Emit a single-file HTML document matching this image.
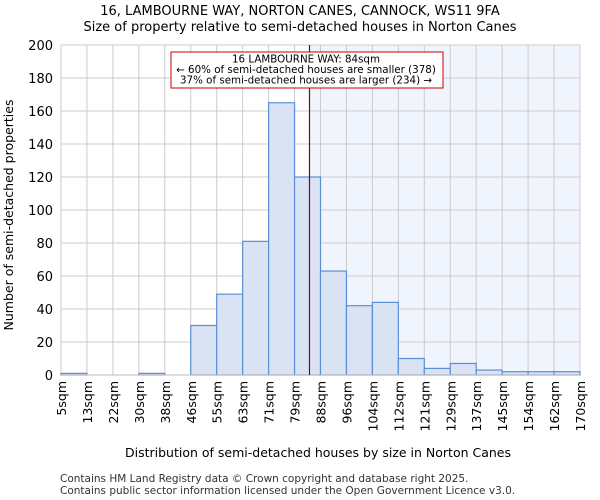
<!DOCTYPE html>
<html><head><meta charset="utf-8"><style>body{margin:0;background:#fff}svg{display:block;font-family:"DejaVu Sans","Liberation Sans",sans-serif}</style></head>
<body>
<svg id="c" width="600" height="500" xmlns="http://www.w3.org/2000/svg">
<text x="300" y="15" text-anchor="middle" font-size="13">16, LAMBOURNE WAY, NORTON CANES, CANNOCK, WS11 9FA</text>
<text x="300" y="31" text-anchor="middle" font-size="13">Size of property relative to semi-detached houses in Norton Canes</text>
<g id="plot"></g>
<text x="318" y="457" text-anchor="middle" font-size="12.5">Distribution of semi-detached houses by size in Norton Canes</text>
<text transform="translate(13,215) rotate(-90)" text-anchor="middle" font-size="12.5">Number of semi-detached properties</text>
<text x="60" y="482" font-size="10.5" fill="#333">Contains HM Land Registry data © Crown copyright and database right 2025.</text>
<text x="60" y="494" font-size="10.5" fill="#333">Contains public sector information licensed under the Open Government Licence v3.0.</text>
</svg>
<script>
const edgeLabels=["5sqm","13sqm","22sqm","30sqm","38sqm","46sqm","55sqm","63sqm","71sqm","79sqm","88sqm","96sqm","104sqm","112sqm","121sqm","129sqm","137sqm","145sqm","154sqm","162sqm","170sqm"];
const counts=[1,0,0,1,0,30,49,81,165,120,63,42,44,10,4,7,3,2,2,2];
const yTicks=[0,20,40,60,80,100,120,140,160,180,200];
const propertySize=84;
const sizeMin=5, sizeMax=170;
const L=61,R=580,T=45,B=375;
const NS="http://www.w3.org/2000/svg";
const g=document.getElementById('plot');
const xi=i=>L+i*(R-L)/counts.length;
const xs=v=>L+(v-sizeMin)/(sizeMax-sizeMin)*(R-L);
const y=v=>B-v/200*(B-T);
function mk(t,a){const e=document.createElementNS(NS,t);for(const k in a)e.setAttribute(k,a[k]);g.appendChild(e);return e;}
const px=xs(propertySize);
let e=mk('rect',{x:px,y:T,width:R-px,height:B-T,fill:'#f0f4fd'});


yTicks.forEach(t=>{
 let l=mk('line',{x1:L,x2:R,y1:y(t),y2:y(t),stroke:'#cccccc','stroke-width':1});
 
 
 let tx=mk('text',{x:L-8,y:y(t)+5,'text-anchor':'end','font-size':13});
 tx.textContent=t;
 
 
});
edgeLabels.forEach((s,i)=>{
 let l=mk('line',{x1:xi(i),x2:xi(i),y1:T,y2:B,stroke:'#cccccc','stroke-width':1});
 
 
 let tx=mk('text',{transform:`translate(${xi(i)+5},${B+6}) rotate(-90)`,'text-anchor':'end','font-size':12.5});
 tx.textContent=s;
 
 
});
counts.forEach((c,i)=>{
 let r=mk('rect',{x:xi(i),y:y(c),width:xi(i+1)-xi(i),height:B-y(c),fill:'#dae3f3',stroke:'#5b8ed6','stroke-width':1.2});
 
 
});
let ax=mk('line',{x1:L,x2:R,y1:B,y2:B,stroke:'#bbb','stroke-width':1});


let ml=mk('line',{x1:px,x2:px,y1:T,y2:B,stroke:'#8b0000','stroke-width':1.2});


let bx=mk('rect',{x:171,y:52,width:272,height:36,fill:'#fff',stroke:'#cc0000','stroke-width':1});


["16 LAMBOURNE WAY: 84sqm","← 60% of semi-detached houses are smaller (378)","37% of semi-detached houses are larger (234) →"].forEach((s,i)=>{
 let t=mk('text',{x:306,y:62.5+i*10.5,'text-anchor':'middle','font-size':10.3});
 t.textContent=s;
 
 
});
</script>
</body></html>
